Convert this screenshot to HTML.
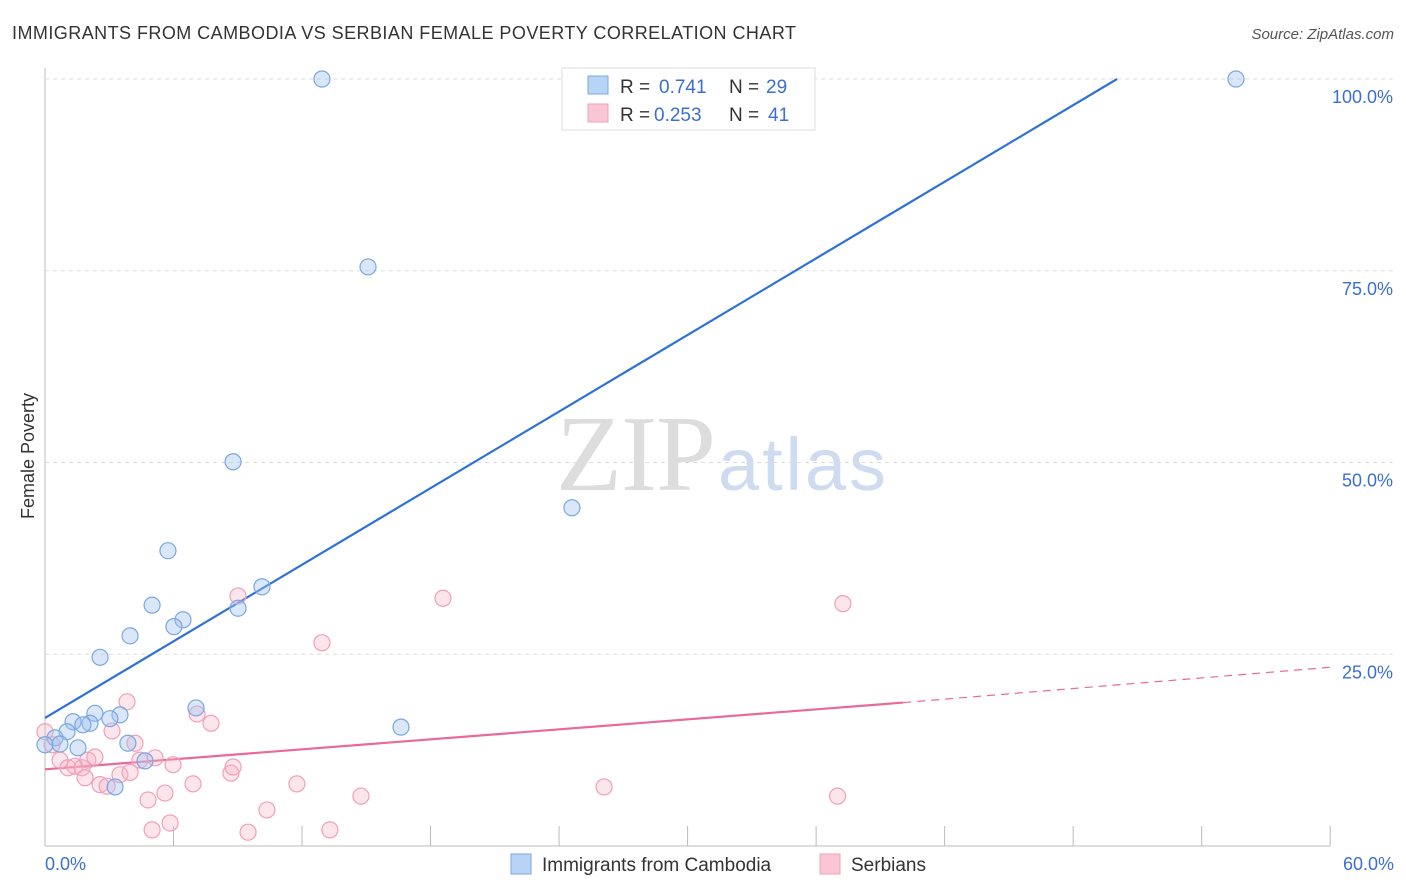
<!DOCTYPE html>
<html><head><meta charset="utf-8"><style>
body{margin:0;background:#fff;font-family:"Liberation Sans",sans-serif;}
svg{display:block}
</style></head><body>
<svg id="c" width="1406" height="892">
<text x="12" y="39" font-size="18" fill="#333" letter-spacing="0.45">IMMIGRANTS FROM CAMBODIA VS SERBIAN FEMALE POVERTY CORRELATION CHART</text>
<text x="1394" y="39" font-size="15" fill="#555" font-style="italic" text-anchor="end">Source: ZipAtlas.com</text>
<text x="716" y="490" font-size="108" fill="#ddd" text-anchor="end" font-family="Liberation Serif,serif" textLength="160">ZIP</text>
<text x="718" y="490" font-size="74" fill="#cfdcf0" textLength="168">atlas</text>
<text transform="translate(34,456) rotate(-90)" font-size="18" fill="#333" text-anchor="middle">Female Poverty</text>
<g id="grid"></g><g id="lines"></g><g id="pts"></g>
<g>
<rect x="562" y="68" width="253" height="62" fill="#fff" stroke="#ddd"/>
<rect x="588" y="76" width="20" height="18" fill="#b7d3f5" stroke="#7aa8e0"/>
<rect x="588" y="104" width="20" height="18" fill="#f9c6d5" stroke="#f0a0b8"/>
<text y="93" font-size="19" fill="#333"><tspan x="620">R =</tspan><tspan x="659" fill="#3b6fd0">0.741</tspan><tspan x="729">N =</tspan><tspan x="766" fill="#3b6fd0">29</tspan></text>
<text y="121" font-size="19" fill="#333"><tspan x="620">R =</tspan><tspan x="654" fill="#3b6fd0">0.253</tspan><tspan x="729">N =</tspan><tspan x="768" fill="#3b6fd0">41</tspan></text>
</g>
<g>
<rect x="511" y="854" width="20" height="20" fill="#b7d3f5" stroke="#7aa8e0"/>
<text x="542" y="871" font-size="19" fill="#333">Immigrants from Cambodia</text>
<rect x="820" y="854" width="20" height="20" fill="#f9c6d5" stroke="#f0a0b8"/>
<text x="851" y="871" font-size="19" fill="#333">Serbians</text>
</g>
</svg>
<script>
const xTicks=[0,6,12,18,24,30,36,42,48,54,60];
const yTicks=[25,50,75,100];
const blueX=[12.93,55.6,15.08,8.78,24.6,5.74,10.13,5.0,9.01,6.44,6.02,3.97,2.57,7.05,2.33,3.5,3.03,1.31,2.1,1.77,16.62,1.03,0.47,0,0.7,1.54,3.87,4.67,3.27];
const blueY=[100,100,75.5,50.1,44.1,38.5,33.8,31.4,31.0,29.5,28.6,27.4,24.6,18.0,17.3,17.1,16.6,16.2,16.0,15.8,15.5,14.9,14.1,13.2,13.3,12.8,13.4,11.1,7.7];
const pinkX=[0,0.33,0.7,1.07,1.4,1.73,2.0,2.33,1.87,2.57,2.9,3.13,3.5,3.83,3.97,4.2,4.43,5.14,4.81,5.0,5.6,5.84,5.98,6.91,7.1,7.75,8.68,8.78,9.01,9.48,10.36,11.76,12.93,13.3,14.75,18.58,26.1,37.0,37.25];
const pinkY=[14.9,13.2,11.2,10.2,10.4,10.2,11.2,11.6,8.9,8.0,7.8,15.0,9.3,18.8,9.6,13.4,11.2,11.5,6.0,2.1,6.9,3.0,10.6,8.1,17.2,16.0,9.5,10.3,32.6,1.8,4.7,8.1,26.5,2.1,6.5,32.3,7.7,6.5,31.6];
const blueLine=[16.7,50.05,100];
const pinkLine=[10.0,40.07,18.7,60,23.3];
const X=v=>45+v*21.42, Y=v=>846-v*7.67;
const NS="http://www.w3.org/2000/svg";
function mk(t,a,p){const e=document.createElementNS(NS,t);for(const k in a)e.setAttribute(k,a[k]);p.appendChild(e);return e;}
const g=document.getElementById('grid');
let ax=mk('line',{x1:45,y1:68,x2:45,y2:846,stroke:'#bbb'},g);


let bx=mk('line',{x1:45,y1:846,x2:1330,y2:846,stroke:'#bbb'},g);


yTicks.forEach(v=>{
 const l=mk('line',{x1:45,y1:Y(v),x2:1394,y2:Y(v),stroke:'#ddd','stroke-dasharray':'4,4'},g);
 
 
 const t=mk('text',{x:1393,y:Y(v)+24,'font-size':18,fill:'#3b6fd0','text-anchor':'end'},g);
 t.textContent=v.toFixed(1)+'%';
 
 
});
xTicks.forEach(v=>{
 const l=mk('line',{x1:X(v),y1:826,x2:X(v),y2:846,stroke:'#bbb'},g);
 
 
});
[[0,'start',45],[60,'end',1394]].forEach(([v,a,x])=>{
 const t=mk('text',{x:x,y:870,'font-size':18,fill:'#3b6fd0','text-anchor':a},g);
 t.textContent=v.toFixed(1)+'%';
 
 
});
const L=document.getElementById('lines');
let b=mk('line',{x1:X(0),y1:Y(blueLine[0]),x2:X(blueLine[1]),y2:Y(blueLine[2]),stroke:'#2f72d6','stroke-width':2.2},L);


let p1=mk('line',{x1:X(0),y1:Y(pinkLine[0]),x2:X(pinkLine[1]),y2:Y(pinkLine[2]),stroke:'#e8699a','stroke-width':2.2},L);


let p2=mk('line',{x1:X(pinkLine[1]),y1:Y(pinkLine[2]),x2:X(pinkLine[3]),y2:Y(pinkLine[4]),stroke:'#e8699a','stroke-width':1.2,'stroke-dasharray':'8,6'},L);


const P=document.getElementById('pts');
pinkX.forEach((v,i)=>{
 const c=mk('circle',{cx:X(v),cy:Y(pinkY[i]),r:8,fill:'rgba(248,180,200,0.35)',stroke:'#f0a0b8','stroke-width':1.2},P);
 
 
});
blueX.forEach((v,i)=>{
 const c=mk('circle',{cx:X(v),cy:Y(blueY[i]),r:8,fill:'rgba(160,196,240,0.4)',stroke:'#7aa8e0','stroke-width':1.2},P);
 
 
});
</script>
</body></html>
